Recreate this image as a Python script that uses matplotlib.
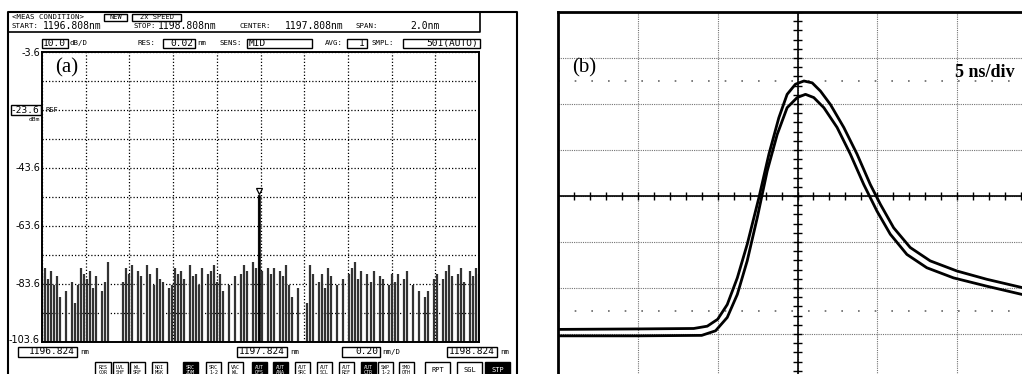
import numpy as np
import matplotlib
matplotlib.use("Agg")
import matplotlib.pyplot as plt
from matplotlib.patches import Rectangle

W, H = 1022, 374

# (a) optical spectrum, dBm levels of the sweep (below floor = no signal)
level_db = [-80, -78, -82, -79, -84, -81, -88,
            -104, -86, -104, -83, -90,
            -84, -78, -80, -82, -79, -85, -81, -104, -86, -83,
            -76, -104, -104, -104, -104,
            -83, -78, -80, -77, -104, -79, -81, -104, -77, -80, -84, -78, -82,
            -83, -104, -85, -84,
            -78, -80, -79, -82, -104, -77, -81, -80, -84, -78, -104, -80, -79, -77, -83, -80,
            -86, -104, -84, -104,
            -81, -104, -80, -77, -79, -104, -76, -78,
            -53,
            -79, -104, -78, -80, -78, -104, -79, -81, -77, -84, -88,
            -104, -85, -104, -104, -90,
            -77, -80, -104, -83, -80, -85, -78, -81,
            -104, -84, -104, -82, -104,
            -80, -78, -76, -82, -79, -104, -80, -83, -79, -104, -81, -82, -104, -84, -80, -83,
            -80, -104, -82, -79, -104, -84, -104, -86,
            -104, -88, -86, -104, -82, -80, -104,
            -82, -79, -77, -81, -104, -80, -78, -83, -104, -79, -81, -78, -80]
wl_start, wl_stop = 1196.824, 1198.824
db_top, db_bottom = -3.6, -103.6
ylabels_a = ["-3.6", "-23.6", "-43.6", "-63.6", "-83.6", "-103.6"]

# (b) oscilloscope traces, time in ns, amplitude in divisions
t_a = [-15, -10, -6.5, -5.65, -5.0, -4.4, -3.77, -3.15, -2.42, -1.79, -1.17, -0.65,
       -0.13, 0.4, 0.92, 1.44, 2.06, 2.9, 3.73, 4.56, 5.19, 6.02, 7.06, 8.31,
       9.98, 11.85, 14.06, 15]
v_a = [-2.90, -2.89, -2.88, -2.83, -2.68, -2.36, -1.78, -1.05, -0.04, 0.91, 1.70, 2.21,
       2.43, 2.50, 2.46, 2.28, 1.99, 1.49, 0.91, 0.25, -0.18, -0.69, -1.12, -1.41,
       -1.63, -1.81, -1.99, -2.03]
t_b = [-15, -10, -6.0, -5.13, -4.4, -3.77, -3.15, -2.52, -1.9, -1.27, -0.65, -0.02,
       0.5, 1.02, 1.65, 2.48, 3.31, 4.15, 4.98, 5.81, 6.85, 8.1, 9.77, 11.85,
       14.06, 15]
v_b = [-3.04, -3.04, -3.03, -2.93, -2.64, -2.14, -1.41, -0.47, 0.54, 1.34, 1.92, 2.14,
       2.21, 2.14, 1.92, 1.49, 0.91, 0.25, -0.33, -0.83, -1.27, -1.56, -1.78, -1.96,
       -2.14, -2.18]

MONO = "DejaVu Sans Mono"

fig = plt.figure(figsize=(W / 100, H / 100), dpi=100)


def place(x0, y0, x1, y1, **kw):
    # axes from pixel corners (top-left origin)
    return fig.add_axes([x0 / W, 1 - y1 / H, (x1 - x0) / W, (y1 - y0) / H], **kw)


# ---------- panel (a) ----------
ax = place(42, 52, 479, 342)
ax.set_xlim(wl_start, wl_stop)
ax.set_ylim(db_bottom, db_top)
ax.set_xticks(np.linspace(wl_start, wl_stop, 11))
ax.set_yticks(np.linspace(db_bottom, db_top, 11))
ax.grid(True, color="k", lw=0.9, ls=(0, (1, 1.6)))
ax.tick_params(length=0, labelbottom=False, labelleft=False)
for s in ax.spines.values():
    s.set_linewidth(1.4)

wl = np.linspace(wl_start, wl_stop, len(level_db))
ax.vlines(wl, -110, level_db, color="0.2", lw=1.6)
ipk = int(np.argmax(level_db))
ax.vlines(wl[ipk], -110, level_db[ipk], color="k", lw=1.8)
ax.plot(wl[ipk], level_db[ipk] + 1.5, marker="v", ms=5, mfc="white", mec="k", mew=0.9)

# ---------- panel (b) ----------
bx = place(558, 12, 1037, 380)
bx.set_xlim(-15, 15)
bx.set_ylim(-4, 4)
bx.set_xticks(np.arange(-15, 16, 5))
bx.set_yticks(np.arange(-4, 5, 1))
bx.grid(True, color="0.45", lw=0.8, ls=(0, (1, 1)))
bx.tick_params(length=0, labelbottom=False, labelleft=False)
for s in bx.spines.values():
    s.set_linewidth(2)

# centre cross with minor ticks
bx.axhline(0, color="k", lw=1.2)
bx.axvline(0, color="k", lw=1.2)
bx.vlines(np.arange(-15, 16, 1), -0.09, 0.09, color="k", lw=1)
bx.hlines(np.arange(-4, 4.01, 0.2), -0.28, 0.28, color="k", lw=1)
for yy in (2.5, -2.5):
    bx.axhline(yy, color="0.4", lw=1.2, ls=(0, (1, 9)))

bx.plot(t_a, v_a, color="k", lw=2)
bx.plot(t_b, v_b, color="k", lw=2)

# ---------- overlay in pixel coords ----------
ov = fig.add_axes([0, 0, 1, 1], zorder=5)
ov.set_xlim(0, W)
ov.set_ylim(H, 0)
ov.axis("off")


def txt(x, y, s, fs=6.6, ha="left", **kw):
    ov.text(x, y, s, fontsize=fs, ha=ha, va="center", family=MONO, **kw)


def box(x0, x1, yc, s, h=9, fs=6.8, dark=False, ha="right"):
    ov.add_patch(Rectangle((x0, yc - h / 2), x1 - x0, h, fc="k" if dark else "white",
                           ec="k", lw=1))
    xt = {"right": x1 - 2, "left": x0 + 2, "center": (x0 + x1) / 2}[ha]
    ov.text(xt, yc, s, fontsize=fs, ha=ha, va="center", family=MONO,
            color="white" if dark else "k", linespacing=0.9)


# frames
ov.plot([8, 8, 517, 517], [380, 12, 12, 380], color="k", lw=1.5, clip_on=False)
ov.plot([8, 480, 480], [32, 32, 12], color="k", lw=1.2)

# header
txt(12, 17, "<MEAS CONDITION>", fs=5.3)
box(104, 127, 17, "NEW", h=7, fs=5, ha="center")
box(132, 181, 17, "2x SPEED", h=7, fs=5, ha="center")
txt(12, 26, "START:", fs=5.3)
txt(43, 26, "1196.808nm", fs=7)
txt(133, 26, "STOP:", fs=5.3)
txt(158, 26, "1198.808nm", fs=7)
txt(240, 26, "CENTER:", fs=5.3)
txt(285, 26, "1197.808nm", fs=7)
txt(355, 26, "SPAN:", fs=5.3)
txt(410, 26, "2.0nm", fs=7)

box(42, 68, 43, "10.0")
txt(70, 43, "dB/D", fs=5.3)
txt(138, 43, "RES:", fs=5.3)
box(163, 195, 43, "0.02")
txt(197, 43, "nm", fs=5.3)
txt(220, 43, "SENS:", fs=5.3)
box(247, 312, 43, "MID", ha="left")
txt(325, 43, "AVG:", fs=5.3)
box(347, 367, 43, "1")
txt(372, 43, "SMPL:", fs=5.3)
box(403, 480, 43, "501(AUTO)")

# y labels of (a)
ylab_pos = [53, 110, 168, 226, 284, 340]
for yy, s in zip(ylab_pos, ylabels_a):
    if s == "-23.6":
        box(11, 41, yy, s, h=10, fs=6.8)
    else:
        ov.text(40, yy, s, fontsize=7, ha="right", va="center", family="DejaVu Sans")
txt(45, 110, "REF", fs=5)
txt(40, 119, "dBm", fs=4.5, ha="right")
ov.text(55, 68, "(a)", fontsize=15, family="Liberation Serif", va="center")

# x labels of (a)
box(18, 77, 352, "1196.824", h=10)
txt(80, 352, "nm", fs=5.3)
box(237, 287, 352, "1197.824", h=10)
txt(290, 352, "nm", fs=5.3)
box(342, 380, 352, "0.20", h=10)
txt(382, 352, "nm/D", fs=5.3)
box(447, 497, 352, "1198.824", h=10)
txt(500, 352, "nm", fs=5.3)

# soft keys
buttons = [(95, 111, "RES\nCOR", False), (113, 128, "LVL\nSHF", False),
           (130, 145, "WL\nSRF", False), (152, 167, "NOI\nMSK", False),
           (183, 198, "SRC\nZOM", True), (206, 221, "SRC\n1-2", False),
           (228, 243, "VAC\nWL", False), (252, 267, "AUT\nOFS", True),
           (273, 288, "AUT\nANA", True), (295, 310, "AUT\nSRC", False),
           (317, 332, "AUT\nSCL", False), (339, 354, "AUT\nREF", False),
           (361, 376, "AUT\nCTR", True), (378, 393, "SWP\n1-2", False),
           (399, 414, "SMO\nOTH", False)]
for x0, x1, s, dark in buttons:
    box(x0, x1, 370, s, h=16, fs=3.6, dark=dark, ha="center")
for x0, x1, s, dark in [(425, 450, "RPT", False), (457, 482, "SGL", False),
                        (485, 510, "STP", True)]:
    box(x0, x1, 370, s, h=16, fs=5, dark=dark, ha="center")

# (b) labels
ov.text(572, 68, "(b)", fontsize=15, family="Liberation Serif", va="center")
ov.text(955, 72, "5 ns/div", fontsize=13, family="Liberation Serif",
        weight="bold", va="center")

fig.savefig("out.png", dpi=100)
